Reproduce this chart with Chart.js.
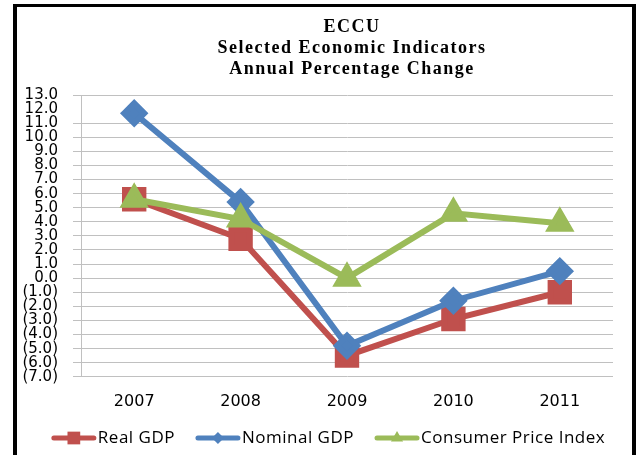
<!DOCTYPE html>
<html>
<head>
<meta charset="utf-8">
<script src="https://cdn.jsdelivr.net/npm/chart.js@4.4.0/dist/chart.umd.min.js"></script>
<style>
  html, body { margin: 0; padding: 0; background: #fff; overflow: hidden; }
  #frame {
    position: absolute; left: 13px; top: 4px; width: 615px; height: 448px;
    border-left: 4px solid #000; border-top: 3px solid #000; border-right: 4px solid #000;
  }
  #chart { display: block; }
</style>
</head>
<body>
<div id="frame"><canvas id="chart" width="615" height="448"></canvas></div>
<script>
// Annual percentage change, ECCU
var years = ['2007', '2008', '2009', '2010', '2011'];
var realGdp = [5.6, 2.8, -5.5, -2.9, -1.0];
var nominalGdp = [11.7, 5.4, -4.8, -1.6, 0.5];
var cpi = [5.6, 4.2, 0.0, 4.6, 3.9];
var yTicks = { min: -7, max: 13, step: 1 };

var titleLines = ['ECCU', 'Selected Economic Indicators', 'Annual Percentage Change'];

var RED = '#C0504D', BLUE = '#4F81BD', GREEN = '#9BBB59';
var gridGrey = '#c0c0c0';

// bracket negatives, one decimal everywhere
function fmt(v) {
  return v < 0 ? '(' + Math.abs(v).toFixed(1) + ')' : v.toFixed(1);
}

// three-line heading over the plot
var titleBlock = {
  id: 'titleBlock',
  afterDraw: function(chart) {
    var ctx = chart.ctx, area = chart.chartArea;
    var cx = (area.left + area.right) / 2 + 5;
    ctx.save();
    ctx.fillStyle = '#000';
    ctx.font = 'bold 18px "Liberation Serif"';
    ctx.letterSpacing = '1.5px';
    ctx.textAlign = 'center';
    ctx.textBaseline = 'middle';
    titleLines.forEach(function(line, i) {
      ctx.fillText(line, cx, 20 + i * 21);
    });
    ctx.restore();
  }
};

// legend with a line sample and marker for each series
var lineLegend = {
  id: 'lineLegend',
  afterDraw: function(chart) {
    var ctx = chart.ctx;
    var sampleW = 46, gap = 21;
    var y = chart.height - 17;
    ctx.save();
    ctx.font = '17px "Open Sans"';
    ctx.letterSpacing = '0.5px';
    ctx.textBaseline = 'middle';
    var items = chart.data.datasets.map(function(ds) {
      return { ds: ds, w: ctx.measureText(ds.label).width };
    });
    var total = 0;
    items.forEach(function(it, i) { total += sampleW + it.w + (i ? gap : 0); });
    var x = chart.width / 2 + 3 - total / 2;
    items.forEach(function(it) {
      var ds = it.ds;
      ctx.strokeStyle = ds.borderColor;
      ctx.fillStyle = ds.borderColor;
      ctx.lineWidth = 5;
      ctx.lineCap = 'round';
      ctx.beginPath();
      ctx.moveTo(x + 3, y);
      ctx.lineTo(x + sampleW - 3, y);
      ctx.stroke();
      Chart.helpers.drawPoint(ctx, {
        pointStyle: ds.pointStyle,
        radius: ds.legendRadius,
        rotation: 0,
        borderWidth: 0
      }, x + sampleW / 2, y);
      ctx.fillStyle = '#000';
      ctx.fillText(ds.label, x + sampleW + 1, y);
      x += sampleW + it.w + gap;
    });
    ctx.restore();
  }
};

var ctx = document.getElementById('chart').getContext('2d');

new Chart(ctx, {
  type: 'line',
  data: {
    labels: years,
    datasets: [{
      label: 'Real GDP',
      data: realGdp,
      borderColor: RED,
      backgroundColor: RED,
      pointBackgroundColor: RED,
      pointBorderColor: RED,
      pointStyle: 'rect',
      pointRadius: 13,
      legendRadius: 9,
      borderWidth: 6,
      order: 3
    }, {
      label: 'Nominal GDP',
      data: nominalGdp,
      borderColor: BLUE,
      backgroundColor: BLUE,
      pointBackgroundColor: BLUE,
      pointBorderColor: BLUE,
      pointStyle: 'rectRot',
      pointRadius: 10,
      legendRadius: 6,
      borderWidth: 6,
      order: 2
    }, {
      label: 'Consumer Price Index',
      data: cpi,
      borderColor: GREEN,
      backgroundColor: GREEN,
      pointBackgroundColor: GREEN,
      pointBorderColor: GREEN,
      pointStyle: 'triangle',
      pointRadius: 11,
      legendRadius: 7,
      borderWidth: 6,
      order: 1
    }]
  },
  options: {
    responsive: false,
    animation: false,
    layout: { padding: { top: 88, right: 11, bottom: 29, left: 0 } },
    plugins: {
      legend: { display: false },
      title: { display: false },
      tooltip: { enabled: false }
    },
    scales: {
      x: {
        offset: true,
        grid: { display: false, drawTicks: false },
        border: { display: false },
        ticks: {
          color: '#000',
          padding: 15,
          font: { family: 'DejaVu Sans', size: 16 }
        }
      },
      y: {
        min: yTicks.min,
        max: yTicks.max,
        afterFit: function(scale) { scale.width = 64; },
        grid: {
          // no rule at 12.0
          color: function(c) { return c.tick && c.tick.value === 12 ? 'rgba(0,0,0,0)' : gridGrey; },
          tickLength: 8,
          lineWidth: 1
        },
        border: { color: gridGrey },
        ticks: {
          stepSize: yTicks.step,
          autoSkip: false,
          color: '#000',
          padding: 15,
          font: { family: 'DejaVu Sans', size: 15, lineHeight: 1 },
          callback: function(v) { return fmt(v); }
        }
      }
    }
  },
  plugins: [titleBlock, lineLegend]
});
</script>
</body>
</html>
